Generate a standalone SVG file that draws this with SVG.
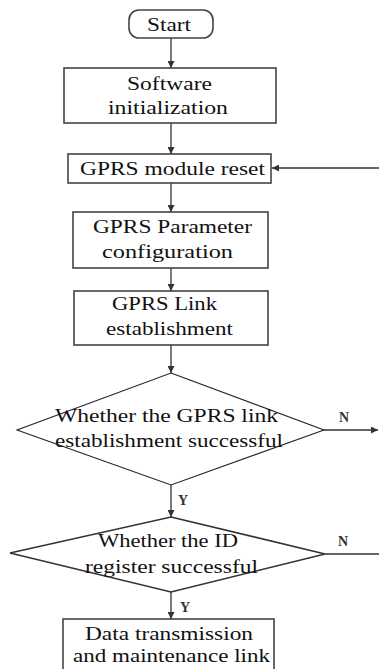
<svg xmlns="http://www.w3.org/2000/svg" width="379" height="669" viewBox="0 0 379 669">
<defs>
<marker id="ah" viewBox="0 0 10 10" refX="10" refY="5" markerWidth="7" markerHeight="7" markerUnits="userSpaceOnUse" orient="auto">
<path d="M0,0 L10,5 L0,10 z" fill="#333"/>
</marker>
<style>
.box{fill:#fff;stroke:#444;stroke-width:1.6}
.dia{fill:#fff;stroke:#222;stroke-width:1.1}
.dia2{fill:#fff;stroke:#333;stroke-width:1.6}
text{font-family:'Liberation Serif','DejaVu Serif',serif}
.t{font-size:18px;fill:#111}
.lbl{font-size:14px;font-weight:bold;fill:#333}
.c{fill:none;stroke:#333;stroke-width:1.3}
</style>
</defs>
<rect width="379" height="669" fill="#fff"/>
<g id="connectors">
<line class="c" x1="171" y1="38" x2="171" y2="68" marker-end="url(#ah)"/>
<line class="c" x1="171" y1="123" x2="171" y2="154" marker-end="url(#ah)"/>
<line class="c" x1="171" y1="183" x2="171" y2="212" marker-end="url(#ah)"/>
<line class="c" x1="171" y1="268" x2="171" y2="291" marker-end="url(#ah)"/>
<line class="c" x1="171" y1="345" x2="171" y2="373" marker-end="url(#ah)"/>
<line class="c" x1="171" y1="485" x2="171" y2="517" marker-end="url(#ah)"/>
<line class="c" x1="171" y1="592" x2="171" y2="619" marker-end="url(#ah)"/>
<line class="c" x1="379" y1="168" x2="272" y2="168" marker-end="url(#ah)"/>
<line class="c" x1="324" y1="430" x2="378" y2="430" marker-end="url(#ah)"/>
<line class="c" x1="325" y1="554" x2="379" y2="554"/>
<text class="lbl" x="339" y="422">N</text>
<text class="lbl" x="338" y="546">N</text>
<text class="lbl" x="178" y="505">Y</text>
<text class="lbl" x="180" y="612">Y</text>
</g>
<g id="start">
<rect class="box" x="129" y="10" width="84" height="28" rx="10" ry="10"/>
<text class="t" x="147" y="31" textLength="44" lengthAdjust="spacingAndGlyphs">Start</text>
</g>
<g id="software-init">
<rect class="box" x="64" y="68" width="212" height="55"/>
<text class="t" x="127" y="90" textLength="85" lengthAdjust="spacingAndGlyphs">Software</text>
<text class="t" x="108" y="114" textLength="120" lengthAdjust="spacingAndGlyphs">initialization</text>
</g>
<g id="gprs-reset">
<rect class="box" x="68" y="154" width="203" height="29"/>
<text class="t" x="80" y="175" textLength="185" lengthAdjust="spacingAndGlyphs">GPRS module reset</text>
</g>
<g id="gprs-param">
<rect class="box" x="73" y="212" width="195" height="56"/>
<text class="t" x="93" y="233" textLength="159" lengthAdjust="spacingAndGlyphs">GPRS Parameter</text>
<text class="t" x="102" y="258" textLength="131" lengthAdjust="spacingAndGlyphs">configuration</text>
</g>
<g id="gprs-link">
<rect class="box" x="74" y="291" width="194" height="54"/>
<text class="t" x="112" y="310" textLength="105" lengthAdjust="spacingAndGlyphs">GPRS Link</text>
<text class="t" x="106" y="335" textLength="127" lengthAdjust="spacingAndGlyphs">establishment</text>
</g>
<g id="decision-link">
<polygon class="dia" points="171,373 324,430 171,485 17,430"/>
<text class="t" x="55" y="422" textLength="223" lengthAdjust="spacingAndGlyphs">Whether the GPRS link</text>
<text class="t" x="55" y="447" textLength="228" lengthAdjust="spacingAndGlyphs">establishment successful</text>
</g>
<g id="decision-id">
<polygon class="dia2" points="171,517 325,554 171,592 10,553"/>
<text class="t" x="98" y="547" textLength="140" lengthAdjust="spacingAndGlyphs">Whether the ID</text>
<text class="t" x="85" y="573" textLength="173" lengthAdjust="spacingAndGlyphs">register successful</text>
</g>
<g id="data-transmission">
<rect class="box" x="63" y="619" width="211" height="60"/>
<text class="t" x="85" y="640" textLength="168" lengthAdjust="spacingAndGlyphs">Data transmission</text>
<text class="t" x="73" y="662" textLength="197" lengthAdjust="spacingAndGlyphs">and maintenance link</text>
</g>
</svg>
